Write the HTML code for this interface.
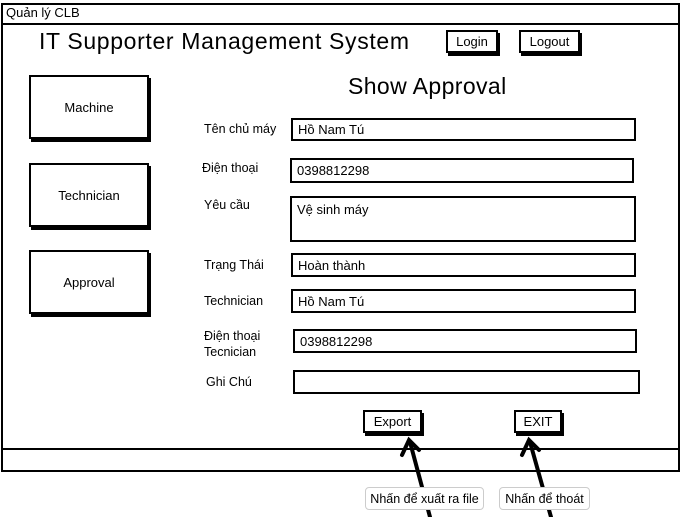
<!DOCTYPE html>
<html><head><meta charset="utf-8"><style>
*{margin:0;padding:0;box-sizing:border-box}
body{width:681px;height:517px;background:#fff;position:relative;overflow:hidden;font-family:"Liberation Sans","DejaVu Sans",sans-serif;color:#000}
.a{position:absolute}
.f{position:absolute;border:2px solid #000;background:#fff;font-size:13px;padding:0 0 0 5px;display:flex;align-items:center}
.b{position:absolute;border:2px solid #000;background:#fff;box-shadow:2px 3px 0 #000;font-size:13px;display:flex;align-items:center;justify-content:center}
.l{position:absolute;font-size:12.5px}
.n{position:absolute;border:1px solid #ccc;border-radius:4px;background:#fff;font-size:12.5px;display:flex;align-items:center;justify-content:center}
</style></head><body>
<div class="a" style="left:1px;top:3px;width:679px;height:469px;border:2px solid #000"></div>
<div class="a" style="left:1px;top:23px;width:679px;height:2px;background:#000"></div>
<div class="a" style="left:1px;top:448px;width:679px;height:2px;background:#000"></div>
<div class="l" style="left:6px;top:5px;font-size:13px">Quản lý CLB</div>
<div class="a" style="left:39px;top:28px;font-size:23px;letter-spacing:0.65px">IT Supporter Management System</div>
<div class="b" style="left:446px;top:30px;width:52px;height:23px">Login</div>
<div class="b" style="left:519px;top:30px;width:61px;height:23px">Logout</div>
<div class="a" style="left:348px;top:73px;font-size:23px;letter-spacing:0.4px">Show Approval</div>
<div class="b" style="left:29px;top:75px;width:120px;height:64px">Machine</div>
<div class="b" style="left:29px;top:163px;width:120px;height:64px">Technician</div>
<div class="b" style="left:29px;top:250px;width:120px;height:64px">Approval</div>
<div class="l" style="left:204px;top:122px">Tên chủ máy</div>
<div class="l" style="left:202px;top:161px">Điện thoại</div>
<div class="l" style="left:204px;top:198px">Yêu cầu</div>
<div class="l" style="left:204px;top:258px">Trạng Thái</div>
<div class="l" style="left:204px;top:294px">Technician</div>
<div class="l" style="left:204px;top:328px;line-height:16px">Điện thoại<br>Tecnician</div>
<div class="l" style="left:206px;top:375px">Ghi Chú</div>
<div class="f" style="left:291px;top:118px;width:345px;height:23px">Hồ Nam Tú</div>
<div class="f" style="left:290px;top:158px;width:344px;height:25px">0398812298</div>
<div class="f" style="left:290px;top:196px;width:346px;height:46px;align-items:flex-start;padding-top:4px">Vệ sinh máy</div>
<div class="f" style="left:291px;top:253px;width:345px;height:24px">Hoàn thành</div>
<div class="f" style="left:291px;top:289px;width:345px;height:24px">Hồ Nam Tú</div>
<div class="f" style="left:293px;top:329px;width:344px;height:24px">0398812298</div>
<div class="f" style="left:293px;top:370px;width:347px;height:24px"></div>
<div class="b" style="left:363px;top:410px;width:59px;height:23px">Export</div>
<div class="b" style="left:514px;top:410px;width:48px;height:23px">EXIT</div>
<svg class="a" style="left:0;top:0" width="681" height="517">
<g stroke="#000" stroke-width="4" fill="none" stroke-linecap="round">
<line x1="430" y1="517" x2="410" y2="442"/>
<polyline points="402,455 409,440 419,450"/>
<line x1="551" y1="517" x2="530" y2="442"/>
<polyline points="522,455 529,440 539,450"/>
</g></svg>
<div class="n" style="left:365px;top:487px;width:119px;height:23px">Nhấn để xuất ra file</div>
<div class="n" style="left:499px;top:487px;width:91px;height:23px">Nhấn để thoát</div>
</body></html>
